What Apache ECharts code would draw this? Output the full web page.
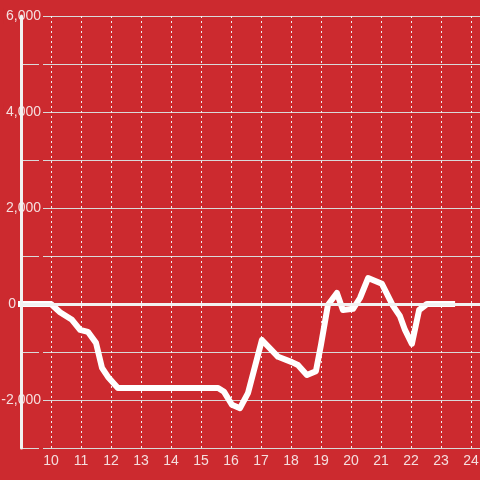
<!DOCTYPE html>
<html><head><meta charset="utf-8">
<script src="https://cdn.jsdelivr.net/npm/echarts@6/dist/echarts.min.js"></script>
<style>html,body{margin:0;padding:0;background:#cc2a2f}#c{width:480px;height:480px}</style>
</head><body><div id="c"></div>
<script>
const xValues = [9, 10, 10.3, 10.7, 10.97, 11.23, 11.5, 11.7, 11.9, 12.23, 15.57, 15.77, 16.03, 16.3, 16.57, 17.03, 17.57, 18.03, 18.23, 18.53, 18.83, 19.0, 19.23, 19.53, 19.73, 20.07, 20.3, 20.57, 21.03, 21.4, 21.63, 21.8, 22.03, 22.27, 22.53, 23.37];
const yValues = [0, 0, -170, -330, -540, -580, -810, -1330, -1520, -1750, -1750, -1830, -2100, -2170, -1850, -750, -1100, -1210, -1270, -1480, -1400, -850, -20, 230, -125, -100, 125, 540, 420, -40, -250, -540, -830, -125, 0, 0];
const yLabelValues = [6000, 4000, 2000, -2000];
const zeroLabel = '0';

const bg = '#cc2a2f';
const labelColor = '#f5dede';
const chart = echarts.init(document.getElementById('c'));
chart.setOption({
  backgroundColor: bg,
  animation: false,
  grid: {left: 21, right: 0, top: 16, bottom: 32, containLabel: false, outerBoundsMode: 'none'},
  xAxis: {
    type: 'value', min: 9, max: 24.3, interval: 1,
    axisLine: {show: true, onZero: false, lineStyle: {color: '#d9d9d9', width: 1}},
    axisTick: {show: false},
    axisLabel: {showMinLabel: false, showMaxLabel: false, color: labelColor, fontSize: 14, margin: 6, fontFamily: 'Liberation Sans'},
    splitLine: {show: true, lineStyle: {color: '#f0f0f0', type: [2, 3], width: 1}}
  },
  yAxis: [{
    type: 'value', min: -3000, max: 6000, interval: 1000, z: 0,
    axisLine: {show: false},
    axisTick: {show: false},
    axisLabel: {
      color: labelColor, fontSize: 14, margin: -22, fontFamily: 'Liberation Sans',
      backgroundColor: bg, padding: [1, 2, 1, 2],
      formatter: v => yLabelValues.includes(v) ? v.toLocaleString('en-US') : ''
    },
    splitLine: {show: true, lineStyle: {color: '#d9d9d9', width: 1}}
  }, {
    type: 'value', min: -3000, max: 6000, interval: 1000, position: 'left', z: 6,
    axisLine: {show: true, lineStyle: {color: '#f2f2f2', width: 3}},
    axisTick: {show: false},
    axisLabel: {show: false},
    splitLine: {show: false}
  }],
  series: [{
    type: 'line',
    yAxisIndex: 0,
    data: xValues.map((x, i) => [x, yValues[i]]),
    showSymbol: false,
    lineStyle: {color: '#ffffff', width: 6, join: 'round', cap: 'square'},
    z: 3,
    markLine: {
      silent: true, symbol: 'none',
      label: {show: true, position: 'start', formatter: zeroLabel, color: labelColor, fontSize: 14, fontFamily: 'Liberation Sans', distance: 5},
      lineStyle: {color: '#f2f2f2', width: 3, type: 'solid'},
      data: [{yAxis: 0}]
    }
  }]
});
</script></body></html>
